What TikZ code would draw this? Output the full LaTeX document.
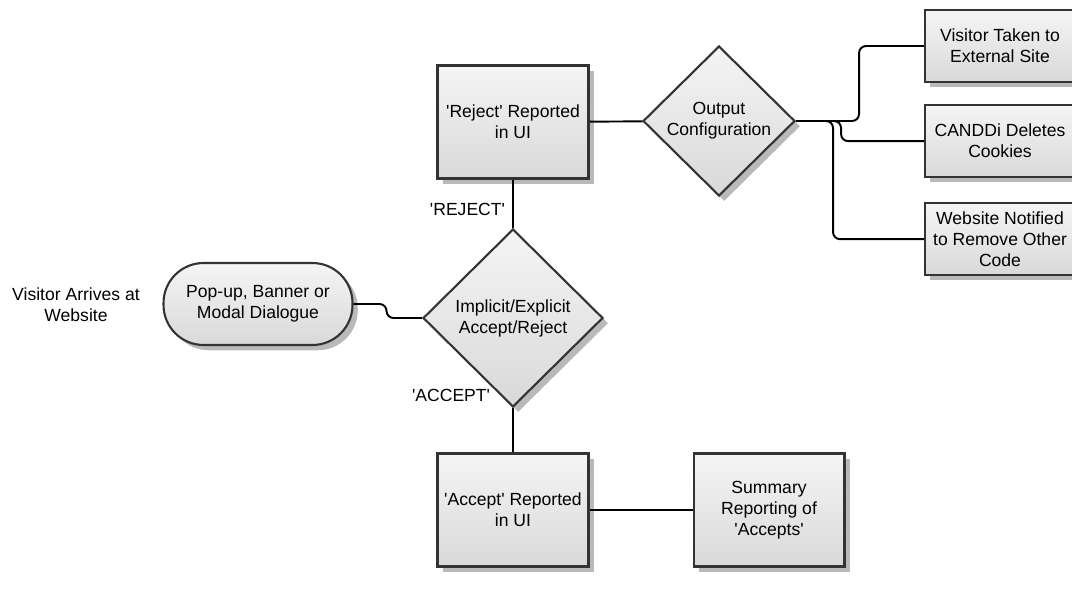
\documentclass[tikz,border=0pt]{standalone}
\usepackage{fontspec}
\setmainfont{Liberation Sans}
\usetikzlibrary{shapes.geometric,shadows,positioning}
\newcommand{\sq}{\textquotesingle}

\begin{document}
\begin{tikzpicture}[x=0.02cm,y=-0.02cm,line width=1.1pt,
    every node/.style={font=\fontsize{10}{12}\selectfont,align=center},
    shade/.style={draw=black!80,line width=1.2pt,top color=gray!8,bottom color=gray!30,
        drop shadow={shadow xshift=3pt,shadow yshift=-3pt,fill=gray!55,opacity=1}},
    box/.style={shade,rectangle,minimum width=3.02cm,minimum height=2.26cm,inner sep=1pt},
    sidebox/.style={shade,rectangle,minimum width=3cm,minimum height=1.44cm,inner sep=1pt},
    decision/.style={shade,diamond,inner sep=1pt},
    terminal/.style={shade,rectangle,rounded corners=0.8cm,minimum width=3.78cm,minimum height=1.64cm},
    link/.style={black,line width=1.1pt,rounded corners=4pt}]

    \useasboundingbox (0,0) rectangle (1072,595);
    \clip (0,0) rectangle (1072,595);

    \node (start) at (76,305) {Visitor Arrives at\\Website};
    \node[terminal] (popup) at (258,304) {Pop-up, Banner or\\Modal Dialogue};
    \node[decision,minimum width=3.6cm,minimum height=3.56cm] (choice) at (513,318) {Implicit/Explicit\\Accept/Reject};
    \node[box] (reject) at (513,122) {\sq Reject\sq{} Reported\\in UI};
    \node[decision,minimum width=3.04cm,minimum height=3cm] (output) at (719,121) {Output\\Configuration};
    \node[box] (accept) at (513,510) {\sq Accept\sq{} Reported\\in UI};
    \node[box] (summary) [right=2.06cm of accept] {Summary\\Reporting of\\\sq Accepts\sq};

    \node[sidebox] (external) at (1000,46) {Visitor Taken to\\External Site};
    \node[sidebox] (cookies) [below=0.42cm of external] {CANDDi Deletes\\Cookies};
    \node[sidebox] (notify) [below=0.48cm of cookies] {Website Notified\\to Remove Other\\Code};

    \draw[link] (popup.east) -- ++(33,0) |- (choice.west);
    \draw[link] (reject) to node[left,inner sep=4pt,yshift=-3pt] {\sq REJECT\sq} (choice);
    \draw[link] (choice) -- (accept);
    \node[anchor=east,inner sep=0pt] (acceptlbl) at (491,395) {\sq ACCEPT\sq};
    \draw[link] (reject) -- (output);
    \draw[link] (accept) -- (summary);

    \draw[link] (output.east) -- ++(63,0) |- (external.west);
    \draw[link] (output.east) -- ++(45,0) |- (cookies.west);
    \draw[link] (output.east) -- ++(37,0) |- (notify.west);
\end{tikzpicture}
\end{document}
